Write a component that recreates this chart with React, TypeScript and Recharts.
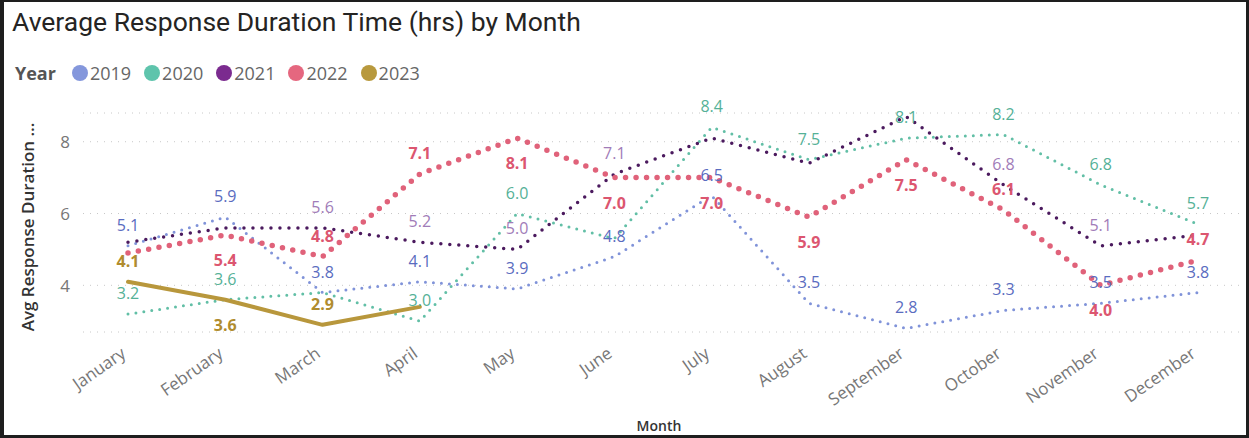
import React from 'react';
import { LineChart, Line, XAxis, YAxis, CartesianGrid, LabelList } from 'recharts';

// values
const months = [
  'January', 'February', 'March', 'April', 'May', 'June',
  'July', 'August', 'September', 'October', 'November', 'December',
];
const years = ['2019', '2020', '2021', '2022', '2023'];

const avg2019 = [5.1, 5.9, 3.8, 4.1, 3.9, 4.8, 6.5, 3.5, 2.8, 3.3, 3.5, 3.8];
const avg2020 = [3.2, 3.6, 3.8, 3.0, 6.0, 5.3, 8.4, 7.5, 8.1, 8.2, 6.8, 5.7];
const avg2021 = [5.2, 5.6, 5.6, 5.2, 5.0, 7.1, 8.1, 7.4, 8.7, 6.8, 5.1, 5.4];
const avg2022 = [4.9, 5.4, 4.8, 7.1, 8.1, 7.0, 7.0, 5.9, 7.5, 6.1, 4.0, 4.7];
const avg2023 = [4.1, 3.6, 2.9, 3.4, null, null, null, null, null, null, null, null];

const yTicks = [4, 6, 8];

// where Power BI put each data label: a = above, b = below, '' = hidden
const labels2019 = ['a', 'a', 'a', 'a', 'a', 'a', 'a', 'a', 'a', 'a', 'a', 'a'];
const labels2020 = ['a', 'a', '', 'a', 'a', '', 'a', 'a', 'a', 'a', 'a', 'a'];
const labels2021 = ['', '', 'a', 'a', 'a', 'a', '', '', '', 'a', 'a', ''];
const labels2022 = ['', 'b', 'a', 'a', 'b', 'b', 'b', 'b', 'b', 'a', 'b', 'a'];
const labels2023 = ['a', 'b', 'a', ''];

const FONT = '"Segoe UI", "Open Sans", sans-serif';

const series = [
  { key: 'y2019', color: '#8093d9', labelColor: '#5a6cc0', width: 3, dash: '0 8', bold: false, pos: labels2019 },
  { key: 'y2020', color: '#62bfa6', labelColor: '#55b197', width: 3, dash: '0 8', bold: false, pos: labels2020 },
  { key: 'y2021', color: '#4b1a5e', labelColor: '#a17cb8', width: 3.5, dash: '0 9', bold: false, pos: labels2021 },
  { key: 'y2022', color: '#e0627a', labelColor: '#dc5670', width: 5.5, dash: '0 10.5', bold: true, pos: labels2022 },
  { key: 'y2023', color: '#b8973c', labelColor: '#b08c2e', width: 4, dash: undefined, bold: true, pos: labels2023 },
];
const legendColors = ['#8497dc', '#5ec4ac', '#7b2b8f', '#e5677f', '#b8993d'];

const chartData = months.map((m, i) => ({
  month: m,
  y2019: avg2019[i],
  y2020: avg2020[i],
  y2021: avg2021[i],
  y2022: avg2022[i],
  y2023: avg2023[i],
}));

const makeLabel = (pos: string[], color: string, bold: boolean) => (props: any) => {
  const { x, y, value, index } = props;
  const p = pos[index];
  if (!p || value == null) return null;
  const dy = p === 'a' ? -21 : 25;
  return (
    <text
      x={x}
      y={y + dy}
      textAnchor="middle"
      dominantBaseline="central"
      fill={color}
      fontSize={16}
      fontWeight={bold ? 700 : 400}
      fontFamily={FONT}
    >
      {Number(value).toFixed(1)}
    </text>
  );
};

const MonthTick = (props: any) => {
  const { x, payload } = props;
  return (
    <g transform={`translate(${x - 1},${356})`}>
      <text
        textAnchor="end"
        transform="rotate(-35)"
        fill="#777"
        fontSize={17}
        fontFamily={FONT}
      >
        {payload.value}
      </text>
    </g>
  );
};

const ValueTick = (props: any) => {
  const { y, payload } = props;
  return (
    <text x={70} y={y} textAnchor="end" dominantBaseline="central" fill="#777" fontSize={17} fontFamily={FONT}>
      {payload.value}
    </text>
  );
};

const App: React.FC = () => {
  return (
    <div style={{ position: 'fixed', left: 0, top: 0, width: 1249, height: 438, background: '#fff', overflow: 'hidden' }}>
      {/* title */}
      <div
        style={{
          position: 'absolute', left: 12, top: 6, fontFamily: 'Roboto, sans-serif',
          fontSize: 26.5, color: '#252423', whiteSpace: 'nowrap',
        }}
      >
        Average Response Duration Time (hrs) by Month
      </div>

      {/* legend */}
      <div
        style={{
          position: 'absolute', left: 15, top: 61, height: 24, display: 'flex', alignItems: 'center',
          fontFamily: FONT, fontSize: 18, color: '#666', whiteSpace: 'nowrap',
        }}
      >
        <span style={{ fontWeight: 700, color: '#555', marginRight: 16 }}>Year</span>
        {years.map((y, i) => (
          <span key={y} style={{ display: 'flex', alignItems: 'center', marginRight: 13 }}>
            <span
              style={{
                display: 'inline-block', width: 16, height: 16, borderRadius: 8,
                background: legendColors[i], marginRight: 2,
              }}
            />
            {y}
          </span>
        ))}
      </div>

      <div style={{ position: 'absolute', left: 0, top: 0 }}>
        <LineChart width={1249} height={438} data={chartData} margin={{ top: 113, right: 6, bottom: 0, left: 0 }}>
          <CartesianGrid vertical={false} stroke="#c8c8c8" strokeDasharray="1 6" />
          <XAxis
            dataKey="month"
            interval={0}
            padding={{ left: 45, right: 45 }}
            height={106}
            axisLine={false}
            tickLine={false}
            tick={<MonthTick />}
            label={() => (
              <text x={659} y={431} textAnchor="middle" fill="#333" fontSize={14} fontWeight={600} fontFamily={FONT}>
                Month
              </text>
            )}
          />
          <YAxis
            domain={[2.7, 8.8]}
            ticks={yTicks}
            width={83}
            axisLine={false}
            tickLine={false}
            tick={<ValueTick />}
            label={() => (
              <text
                x={34}
                y={227}
                transform="rotate(-90 34 227)"
                textAnchor="middle"
                fill="#333"
                fontSize={17}
                fontWeight={600}
                fontFamily={FONT}
              >
                Avg Response Duration …
              </text>
            )}
          />
          {series.map((s) => (
            <Line
              key={s.key}
              dataKey={s.key}
              type="linear"
              stroke={s.color}
              strokeWidth={s.width}
              strokeDasharray={s.dash}
              strokeLinecap="round"
              strokeLinejoin="round"
              dot={false}
              activeDot={false}
              isAnimationActive={false}
            >
              <LabelList dataKey={s.key} content={makeLabel(s.pos, s.labelColor, s.bold)} />
            </Line>
          ))}
        </LineChart>
      </div>

      {/* frame */}
      <div
        style={{
          position: 'absolute', left: 0, top: 0, width: 1249, height: 438, boxSizing: 'border-box',
          borderStyle: 'solid', borderColor: '#1e1e1e', borderWidth: '2px 3px 3px 4px', pointerEvents: 'none',
        }}
      />
    </div>
  );
};

export default App;
